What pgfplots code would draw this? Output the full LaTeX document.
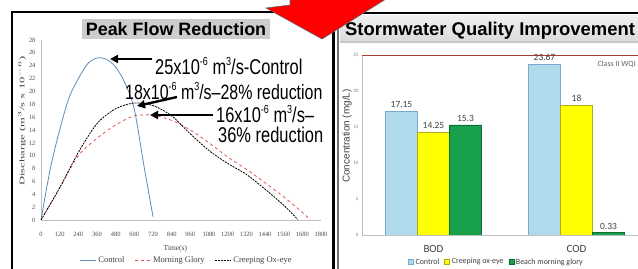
\documentclass[border=0pt]{standalone}
\usepackage{fontspec}
\setmainfont{Liberation Sans}
\newfontfamily\serf{Liberation Serif}
\newfontfamily\calib{Carlito}
\usepackage{pgfplots}
\pgfplotsset{compat=1.18}
\usetikzlibrary{arrows.meta}
\newcommand{\sps}[1]{\raisebox{0.42em}{\fontsize{9}{9}\selectfont #1}}
\definecolor{ctrlblue}{RGB}{95,140,185}
\definecolor{mgred}{RGB}{225,85,85}
\definecolor{barblue}{RGB}{175,218,235}
\definecolor{barblueE}{RGB}{120,170,205}
\definecolor{baryel}{RGB}{255,255,0}
\definecolor{baryelE}{RGB}{175,175,30}
\definecolor{bargrn}{RGB}{25,160,75}
\definecolor{bargrnE}{RGB}{10,110,50}
\definecolor{titlegray}{RGB}{205,205,205}
\definecolor{wqired}{RGB}{170,60,50}
\begin{document}
\begin{tikzpicture}
\path[use as bounding box] (0bp,0bp) rectangle (638bp,269bp);
\fill[white] (0bp,0bp) rectangle (638bp,269bp);
\begin{scope}
\clip (0bp,0bp) rectangle (638bp,269bp);
% ---------- left chart ----------
\begin{axis}[at={(41bp,49bp)}, anchor=south west, scale only axis,
  width=280bp, height=180bp,
  xmin=0, xmax=1800, ymin=0, ymax=28,
  axis x line*=bottom, axis y line*=left,
  axis line style={black!25,-},
  major tick length=0pt,
  xtick={0,120,...,1800}, ytick={0,2,...,28},
  /pgf/number format/assume math mode=true,
  /pgf/number format/1000 sep={},
  ticklabel style={font=\serf\fontsize{6.5}{6.5}\selectfont, text=black!70},
  xticklabel style={yshift=-9bp},
  yticklabel style={xshift=-2bp},
  xlabel={Time(s)},
  xlabel style={font=\serf\fontsize{7.5}{7.5}\selectfont, text=black!75, at={(axis description cs:0.48,-0.16)}, anchor=center},
  ylabel={\scalebox{1.8}[1]{Discharge (m$^3$/s x 10$^{-6}$)}},
  ylabel style={font=\serf\fontsize{7}{7}\selectfont, text=black!75, at={(axis description cs:-0.068,0.55)}, anchor=center},
  legend style={draw=none, fill=none, at={(axis description cs:0.52,-0.222)}, anchor=center,
    font=\serf\fontsize{8.5}{8.5}\selectfont, text=black!75, legend columns=3,
    /tikz/every even column/.append style={column sep=8bp}},
  legend image code/.code={\draw[#1] (0bp,0bp) -- (16bp,0bp);},
  every axis plot/.append style={line width=0.8pt},
]
\addplot[ctrlblue, smooth, tension=0.5] coordinates {
 (0,0) (60,8) (120,14) (180,19) (240,22) (300,24.3) (360,25.2) (420,25)
 (480,23.8) (540,21.3) (600,17.2) (660,8.7) (720,0.5)};
\addlegendentry{Control}
\addplot[mgred, dashed, smooth, tension=0.5] coordinates {
 (0,0) (120,5) (240,10) (360,12.7) (480,14.8) (600,16.2) (720,16.3) (840,15.5)
 (960,14) (1080,12) (1200,9.8) (1320,7.9) (1440,5.8) (1560,3.6) (1680,1.2) (1730,0)};
\addlegendentry{Morning Glory}
\addplot[black, dash pattern=on 2pt off 1pt, smooth, tension=0.5] coordinates {
 (0,0) (120,5) (240,10.5) (360,15) (480,17.3) (600,18.2) (720,17.8) (840,16.2)
 (960,13.4) (1080,10.8) (1200,8.8) (1320,7.1) (1440,4.8) (1560,2.3) (1650,0.1)};
\addlegendentry{Creeping Ox-eye}
\end{axis}
% ---------- right chart ----------
\begin{axis}[at={(362bp,34bp)}, anchor=south west, scale only axis,
  width=286bp, height=180bp,
  xmin=-0.5, xmax=1.5, ymin=0, ymax=25,
  ybar=0pt, bar width=32bp,
  axis x line*=bottom, axis y line*=left,
  axis line style={black!25,-},
  xtick={0,1}, xticklabels={BOD,COD},
  xticklabel style={font=\calib\fontsize{11}{11}\selectfont, text=black!75, yshift=-3bp},
  major x tick style={draw=none},
  extra x ticks={-0.5,0.5,1.5}, extra x tick labels={},
  extra x tick style={major tick length=5bp, tick align=outside, tick style={black!30}},
  ytick={0,5,...,20},
  extra y ticks={25}, extra y tick labels={25},
  extra y tick style={grid=major, major grid style={wqired, line width=0.6pt}},
  major y tick style={draw=none},
  /pgf/number format/assume math mode=true,
  yticklabel style={font=\calib\fontsize{5}{5}\selectfont, text=black!50},
  ylabel={Concentration (mg/L)},
  ylabel style={font=\fontsize{10}{10}\selectfont, text=black!75, at={(axis description cs:-0.052,0.55)}, anchor=center},
  nodes near coords,
  nodes near coords style={font=\calib\fontsize{9.5}{9.5}\selectfont, text=black!75, /pgf/number format/assume math mode=true},
  legend style={draw=none, fill=none, at={(axis description cs:0.47,-0.15)}, anchor=center,
    font=\calib\fontsize{8}{8}\selectfont, text=black!75, legend columns=3,
    /tikz/every even column/.append style={column sep=3bp}},
  legend image code/.code={\draw[#1, line width=0.4pt] (0bp,-2.5bp) rectangle (5bp,2.5bp);},
]
\addplot[fill=barblue, draw=barblueE] coordinates {(0,17.15) (1,23.67)};
\addlegendentry{Control}
\addplot[fill=baryel, draw=baryelE] coordinates {(0,14.25) (1,18)};
\addlegendentry{Creeping ox-eye}
\addplot[fill=bargrn, draw=bargrnE] coordinates {(0,15.3) (1,0.33)};
\addlegendentry{Beach morning glory}
\end{axis}
\begin{scope}[x=1bp,y=1bp]
\node[anchor=east, font=\calib\fontsize{8}{8}\selectfont, text=black!60, inner sep=1bp] at (637,205) {Class II WQI};
% ---------- titles ----------
\fill[titlegray] (82,230) rectangle (270,250);
\node[font=\bfseries\fontsize{18}{18}\selectfont, inner sep=0pt] at (176,239.5) {Peak Flow Reduction};
\shade[top color=black!6, bottom color=black!14] (340,228) rectangle (638,253);
\fill[black!22] (340,226) rectangle (638,228);
\node[font=\bfseries\fontsize{18.5}{18.5}\selectfont, inner sep=0pt, anchor=west] at (345,238.5) {Stormwater Quality Improvement};
% ---------- annotations ----------
\begin{scope}[line width=2.4bp, -{Triangle[length=8bp,width=8bp]}]
\draw (152,210) -- (110,210);
\draw (177,172) -- (137,163);
\draw (213,154) -- (150,154);
\end{scope}
\node[anchor=base west, inner sep=0pt, font=\fontsize{16.5}{16.5}\selectfont] at (155,195) {\scalebox{1}[1.3]{25x10\sps{-6} m\sps{3}/s-Control}};
\node[anchor=base west, inner sep=0pt, font=\fontsize{16}{16}\selectfont] at (125,170) {\scalebox{1}[1.3]{18x10\sps{-6} m\sps{3}/s--28\% reduction}};
\node[anchor=base west, inner sep=0pt, font=\fontsize{16.5}{16.5}\selectfont] at (216,146.5) {\scalebox{1}[1.3]{16x10\sps{-6} m\sps{3}/s--}};
\node[anchor=base west, inner sep=0pt, font=\fontsize{16.5}{16.5}\selectfont] at (218,126.5) {\scalebox{1}[1.3]{36\% reduction}};
% ---------- frames ----------
\draw[black, line width=2.5bp] (12,0) -- (12,257) -- (300,257);
\draw[black, line width=3bp] (333.5,0) -- (333.5,257);
\draw[black!55, line width=2bp] (337.5,0) -- (337.5,253);
\draw[black, line width=2.5bp] (336,256) -- (638,256);
% ---------- red arrow ----------
\filldraw[fill=red, draw=black!60, line width=0.6bp] (290,271) -- (352,271) -- (386,270) -- (322,230) -- (266,261) -- (290,264) -- cycle;
\end{scope}
\end{scope}
\end{tikzpicture}
\end{document}
